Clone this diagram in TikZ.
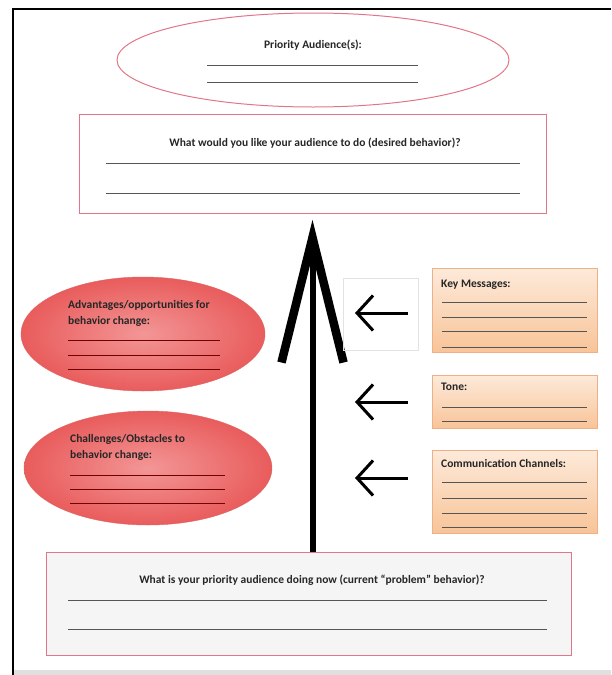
\documentclass[tikz,border=0pt]{standalone}
\usepackage{fontspec}
\setmainfont{Carlito}
\usetikzlibrary{shapes.geometric,arrows.meta}

\definecolor{pinkline}{RGB}{226,118,136}
\definecolor{redin}{RGB}{243,150,150}
\definecolor{redout}{RGB}{233,92,92}
\definecolor{rededge}{RGB}{222,100,100}
\definecolor{peachtop}{RGB}{253,234,218}
\definecolor{peachbot}{RGB}{248,196,152}
\definecolor{peachedge}{RGB}{238,176,134}
\definecolor{ruleline}{RGB}{85,85,85}
\definecolor{paleline}{RGB}{226,226,226}

\begin{document}
\begin{tikzpicture}[x=1pt,y=-1pt,
    lbl/.style={font=\bfseries\fontsize{11.5}{16.5}\selectfont, text=black!85, inner sep=0pt, align=left},
    fillin/.style={draw=ruleline, line width=0.8pt},
    oval/.style={ellipse, draw=pinkline, line width=1pt, inner sep=0pt},
    redoval/.style={ellipse, draw=rededge, shading=radial, inner color=redin, outer color=redout, inner sep=0pt},
    wantbox/.style={rectangle, draw=pinkline, line width=1pt, inner sep=0pt},
    peachbox/.style={rectangle, draw=peachedge, top color=peachtop, bottom color=peachbot, inner sep=0pt, minimum width=165pt},
    shaft/.style={line width=6pt},
    barb/.style={line width=8.5pt, line join=miter},
    smallarrow/.style={line width=3pt, -{Straight Barb[length=16pt,width=35pt]}}]

    \useasboundingbox (0,0) rectangle (611,675);
    % page frame
    \fill[black!12] (13,670) rectangle (611,675);
    \draw[line width=1.5pt] (611,9) -- (13,9) -- (13,675);

    % audience and desired behavior
    \node (aud) [oval, minimum width=392pt, minimum height=94pt] at (313,60) {};
    \node (audtxt) [lbl] at (313,45) {Priority Audience(s):};
    \foreach \y in {65,82} \draw[fillin] (207,\y) -- (418,\y);

    \node (want) [wantbox, minimum width=467pt, minimum height=99pt] at (312.5,163.5) {};
    \node (wanttxt) [lbl] at (315,143) {What would you like your audience to do (desired behavior)?};
    \foreach \y in {163,193} \draw[fillin] (106,\y) -- (520,\y);

    % red ovals
    \node (adv) [redoval, minimum width=244pt, minimum height=114pt] at (143,334) {};
    \node (advtxt) [lbl, anchor=west] at (68,313.5) {Advantages/opportunities for\\behavior change:};
    \foreach \y in {340,355,369} \draw[fillin, draw=red!45!black] (68,\y) -- (220,\y);

    \node (chal) [redoval, minimum width=248pt, minimum height=114pt] at (148,468) {};
    \node (chaltxt) [lbl, anchor=west] at (70,447.5) {Challenges/Obstacles to\\behavior change:};
    \foreach \y in {475,489,503} \draw[fillin, draw=red!45!black] (70,\y) -- (225,\y);

    % peach boxes
    \node (km) [peachbox, minimum height=84pt] at (514.5,310) {};
    \node (kmtxt) [lbl, anchor=west] at (441,285) {Key Messages:};
    \foreach \y in {302,317,331,347} \draw[fillin] (442,\y) -- (587,\y);

    \node (tone) [peachbox, minimum height=53pt] at (514.5,401.5) {};
    \node (tonetxt) [lbl, anchor=west] at (441,387) {Tone:};
    \foreach \y in {407,421} \draw[fillin] (442,\y) -- (587,\y);

    \node (comm) [peachbox, minimum height=83pt] at (514.5,491.5) {};
    \node (commtxt) [lbl, anchor=west] at (441,463) {Communication Channels:};
    \foreach \y in {482,498,513,527} \draw[fillin] (442,\y) -- (587,\y);

    % current behavior
    \node (cur) [wantbox, fill=black!4, minimum width=525pt, minimum height=103pt] at (308.5,603.5) {};
    \node (curtxt) [lbl] at (312,580) {What is your priority audience doing now (current “problem” behavior)?};
    \foreach \y in {600,629} \draw[fillin] (68,\y) -- (547,\y);

    % big arrow
    \draw[shaft] (want.south |- cur.north) -- ([yshift=-30pt]want.south);
    \draw[barb] ([xshift=-31pt,yshift=-149pt]want.south) -- ([yshift=-24pt]want.south) -- ([xshift=31pt,yshift=-149pt]want.south);

    % small arrows
    \node (kmframe) [draw=paleline, line width=0.8pt, minimum width=75pt, minimum height=72pt] at (380.5,314) {};
    \coordinate (kmtail) at (408,313);
    \coordinate (kmtip) at (355,313);
    \coordinate (tonetail) at (408,402);
    \coordinate (tonetip) at (355,402);
    \coordinate (commtail) at (408,478);
    \coordinate (commtip) at (355,478);
    \draw[smallarrow] (kmtail) -- (kmtip);
    \draw[smallarrow] (tonetail) -- (tonetip);
    \draw[smallarrow] (commtail) -- (commtip);
\end{tikzpicture}
\end{document}
